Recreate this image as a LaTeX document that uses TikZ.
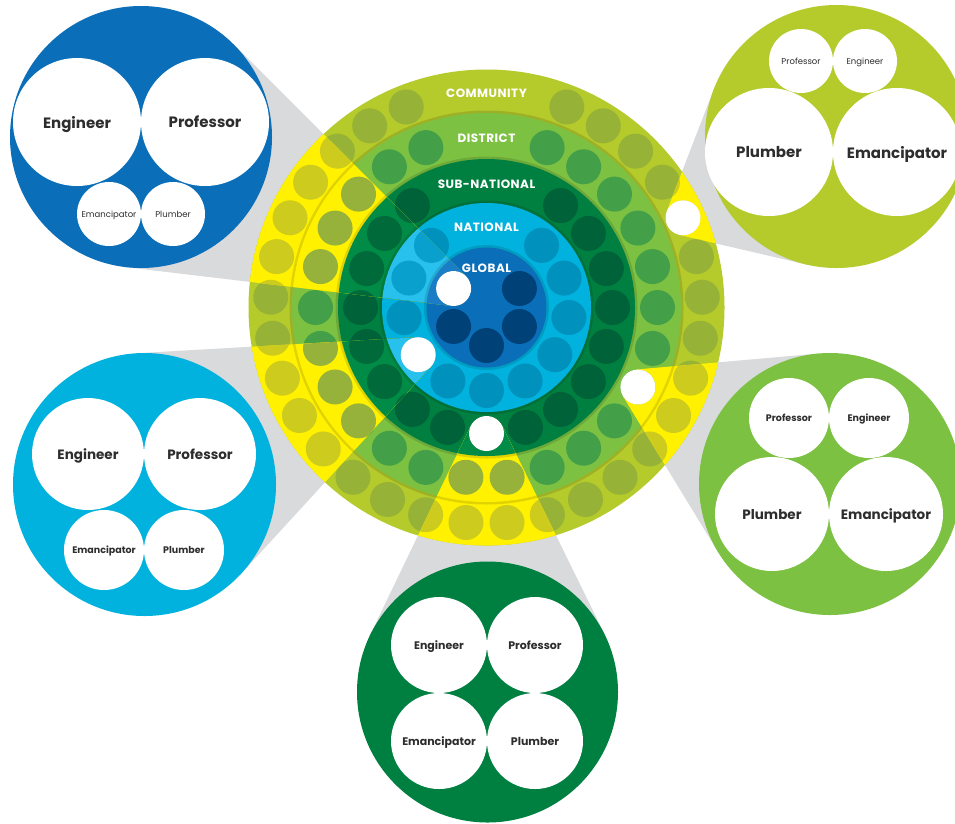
\documentclass[tikz,border=0pt]{standalone}
\usepackage{fontspec}
\setmainfont{Poppins}
\newfontfamily\ringfont[LetterSpace=4]{Poppins}
\usetikzlibrary{calc}
\definecolor{cComm}{RGB}{181,202,43}
\definecolor{dComm}{RGB}{150,178,55}
\definecolor{cDist}{RGB}{125,193,66}
\definecolor{dDist}{RGB}{67,160,72}
\definecolor{cSub}{RGB}{0,128,64}
\definecolor{dSub}{RGB}{0,98,56}
\definecolor{cNat}{RGB}{0,178,221}
\definecolor{dNat}{RGB}{0,146,188}
\definecolor{cGlob}{RGB}{10,110,184}
\definecolor{dGlob}{RGB}{0,66,120}
\definecolor{hY}{RGB}{255,241,0}
\definecolor{hdComm}{RGB}{205,204,30}
\definecolor{hdDist}{RGB}{150,178,58}
\definecolor{hSub}{RGB}{0,140,70}
\definecolor{hdSub}{RGB}{0,106,58}
\definecolor{hNat}{RGB}{40,192,236}
\definecolor{hdNat}{RGB}{10,160,205}
\definecolor{hGlob}{RGB}{26,125,198}
\definecolor{hdGlob}{RGB}{5,80,140}
\definecolor{beamgray}{RGB}{217,218,219}
\definecolor{txt}{RGB}{45,45,45}
\tikzset{
  shd/.style={fill=black,opacity=0.12},
  satc/.style={circle,inner sep=0pt,minimum size=#1},
  wc/.style={circle,fill=white,inner sep=0pt,minimum size=#1,text=txt,align=center,text depth=0pt},
  bigf/.style={font=\bfseries\fontsize{#1}{#1}\selectfont},
  smf/.style={font=\fontsize{#1}{#1}\selectfont},
  ringlbl/.style={text=white,font=\ringfont\bfseries\fontsize{12}{12}\selectfont,inner sep=0pt},
  wdot/.style={circle,fill=white,inner sep=0pt,minimum size=35pt}
}
\newcommand\mkbeam[7]{%
  \pgfmathsetmacro\bdx{#5-#2}%
  \pgfmathsetmacro\bdy{#6-#3}%
  \pgfmathsetmacro\bd{veclen(\bdx,\bdy)}%
  \pgfmathsetmacro\bth{atan2(\bdy,\bdx)}%
  \pgfmathsetmacro\bal{acos((#4-#7)/\bd)}%
  \pgfmathsetmacro\bpa{\bth+\bal}%
  \pgfmathsetmacro\bpb{\bth-\bal}%
  \coordinate (#1a1) at ($(#2,#3)+(\bpa:#4)$);
  \coordinate (#1b1) at ($(#5,#6)+(\bpa:#7)$);
  \coordinate (#1b2) at ($(#5,#6)+(\bpb:#7)$);
  \coordinate (#1a2) at ($(#2,#3)+(\bpb:#4)$);
}
\newcommand\ringfills[5]{%
  \fill[#1] (C) circle[radius=238pt];
  \fill[shd] (C) circle[radius=197pt];
  \fill[#2] (C) circle[radius=194.5pt];
  \fill[shd] (C) circle[radius=151pt];
  \fill[#3] (C) circle[radius=148.5pt];
  \fill[shd] (C) circle[radius=107pt];
  \fill[#4] (C) circle[radius=104.5pt];
  \fill[shd] (C) circle[radius=62.5pt];
  \fill[#5] (C) circle[radius=60pt];
}
\newcommand\ringdots[5]{%
  \foreach \j in {0,...,14}{\foreach \s in {1,-1}{\fill[#1] ($(C)+({90+\s*(5.4545+10.909*\j)}:216)$) circle[radius=17.5pt];}}
  \foreach \k in {1,...,12}{\foreach \s in {1,-1}{\fill[#2] ($(C)+({-90+\s*(6.923+13.846*\k)}:171)$) circle[radius=17.5pt];}}
  \foreach \k in {2,...,18}{\fill[#3] ($(C)+({-90+18*\k}:126)$) circle[radius=17.5pt];}
  \foreach \k in {-5,...,5}{\fill[#4] ($(C)+({90+27.692*\k}:83)$) circle[radius=17.5pt];}
  \foreach \k in {1,...,5}{\fill[#5] ($(C)+({-90+60*\k}:38)$) circle[radius=17.5pt];}
}
\begin{document}
\begin{tikzpicture}[x=1pt,y=-1pt]
\useasboundingbox (0,0) rectangle (955,823);
\clip (0,0) rectangle (955,823);
\fill[white] (0,0) rectangle (955,823);
\coordinate (C) at (486.5,307.5);
% beams: apex white dot -> satellite circle
\mkbeam{G}{453.6}{288.5}{17.5}{141}{137}{131}
\mkbeam{N}{418.2}{354.7}{17.5}{144.5}{484.5}{131.5}
\mkbeam{S}{486.5}{433.5}{17.5}{487.5}{692}{130.5}
\mkbeam{D}{637.9}{387.0}{17.5}{830}{484}{131}
\mkbeam{M}{683.0}{217.8}{17.5}{836.5}{136.5}{131.5}
\foreach \bn in {G,N,S,D,M}{\fill[beamgray] (\bn a1) -- (\bn b1) -- (\bn b2) -- (\bn a2) -- cycle;}
% satellite: global
\node[satc=262pt,fill=cGlob] (sGlob) at (141,137) {};
\node[wc=128pt,bigf=15] (gEng) at (77,122) {Engineer};
\node[wc=128pt,bigf=15] (gProf) at (205,122) {Professor};
\node[wc=64pt,smf=8.5] (gEman) at (109,214) {Emancipator};
\node[wc=64pt,smf=8.5] (gPlum) at (173,214) {Plumber};
% satellite: national
\node[satc=263pt,fill=cNat] (sNat) at (144.5,484.5) {};
\node[wc=112pt,bigf=13.5] (nEng) at (88,454) {Engineer};
\node[wc=112pt,bigf=13.5] (nProf) at (200,454) {Professor};
\node[wc=80pt,bigf=9.5] (nEman) at (104,550) {Emancipator};
\node[wc=80pt,bigf=9.5] (nPlum) at (184,550) {Plumber};
% satellite: sub-national
\node[satc=261pt,fill=cSub] (sSub) at (487.5,692) {};
\node[wc=96pt,bigf=11] (uEng) at (439,645) {Engineer};
\node[wc=96pt,bigf=11] (uProf) at (535,645) {Professor};
\node[wc=96pt,bigf=11] (uEman) at (439,741) {Emancipator};
\node[wc=96pt,bigf=11] (uPlum) at (535,741) {Plumber};
% satellite: district
\node[satc=262pt,fill=cDist] (sDist) at (830,484) {};
\node[wc=80pt,bigf=9.5] (dProf) at (789,418) {Professor};
\node[wc=80pt,bigf=9.5] (dEng) at (869,418) {Engineer};
\node[wc=114pt,bigf=13.5] (dPlum) at (772,514) {Plumber};
\node[wc=114pt,bigf=13.5] (dEman) at (886,514) {Emancipator};
% satellite: community
\node[satc=263pt,fill=cComm] (sComm) at (836.5,136.5) {};
\node[wc=64pt,smf=8.5] (mProf) at (801,61) {Professor};
\node[wc=64pt,smf=8.5] (mEng) at (865,61) {Engineer};
\node[wc=128pt,bigf=15] (mPlum) at (769,152) {Plumber};
\node[wc=128pt,bigf=15] (mEman) at (897,152) {Emancipator};
% main rings
\ringfills{cComm}{cDist}{cSub}{cNat}{cGlob}
\ringdots{dComm}{dDist}{dSub}{dNat}{dGlob}
% highlighted wedges
\foreach \bn in {G,N,S,D,M}{
  \begin{scope}
    \clip (\bn a1) -- (\bn b1) -- (\bn b2) -- (\bn a2) -- cycle;
    \ringfills{hY}{hY}{hSub}{hNat}{hGlob}
    \ringdots{hdComm}{hdDist}{hdSub}{hdNat}{hdGlob}
  \end{scope}
}
% white dots
\node[wdot] (wG) at (453.6,288.5) {};
\node[wdot] (wN) at (418.2,354.7) {};
\node[wdot] (wS) at (486.5,433.5) {};
\node[wdot] (wD) at (637.9,387.0) {};
\node[wdot] (wM) at (683.0,217.8) {};
% ring labels
\node[ringlbl] (lComm) at (486.5,93.5) {COMMUNITY};
\node[ringlbl] (lDist) at (486.5,138.5) {DISTRICT};
\node[ringlbl] (lSub) at (486.5,184) {SUB-NATIONAL};
\node[ringlbl] (lNat) at (486.5,227) {NATIONAL};
\node[ringlbl] (lGlob) at (486.5,268.5) {GLOBAL};
\end{tikzpicture}
\end{document}
